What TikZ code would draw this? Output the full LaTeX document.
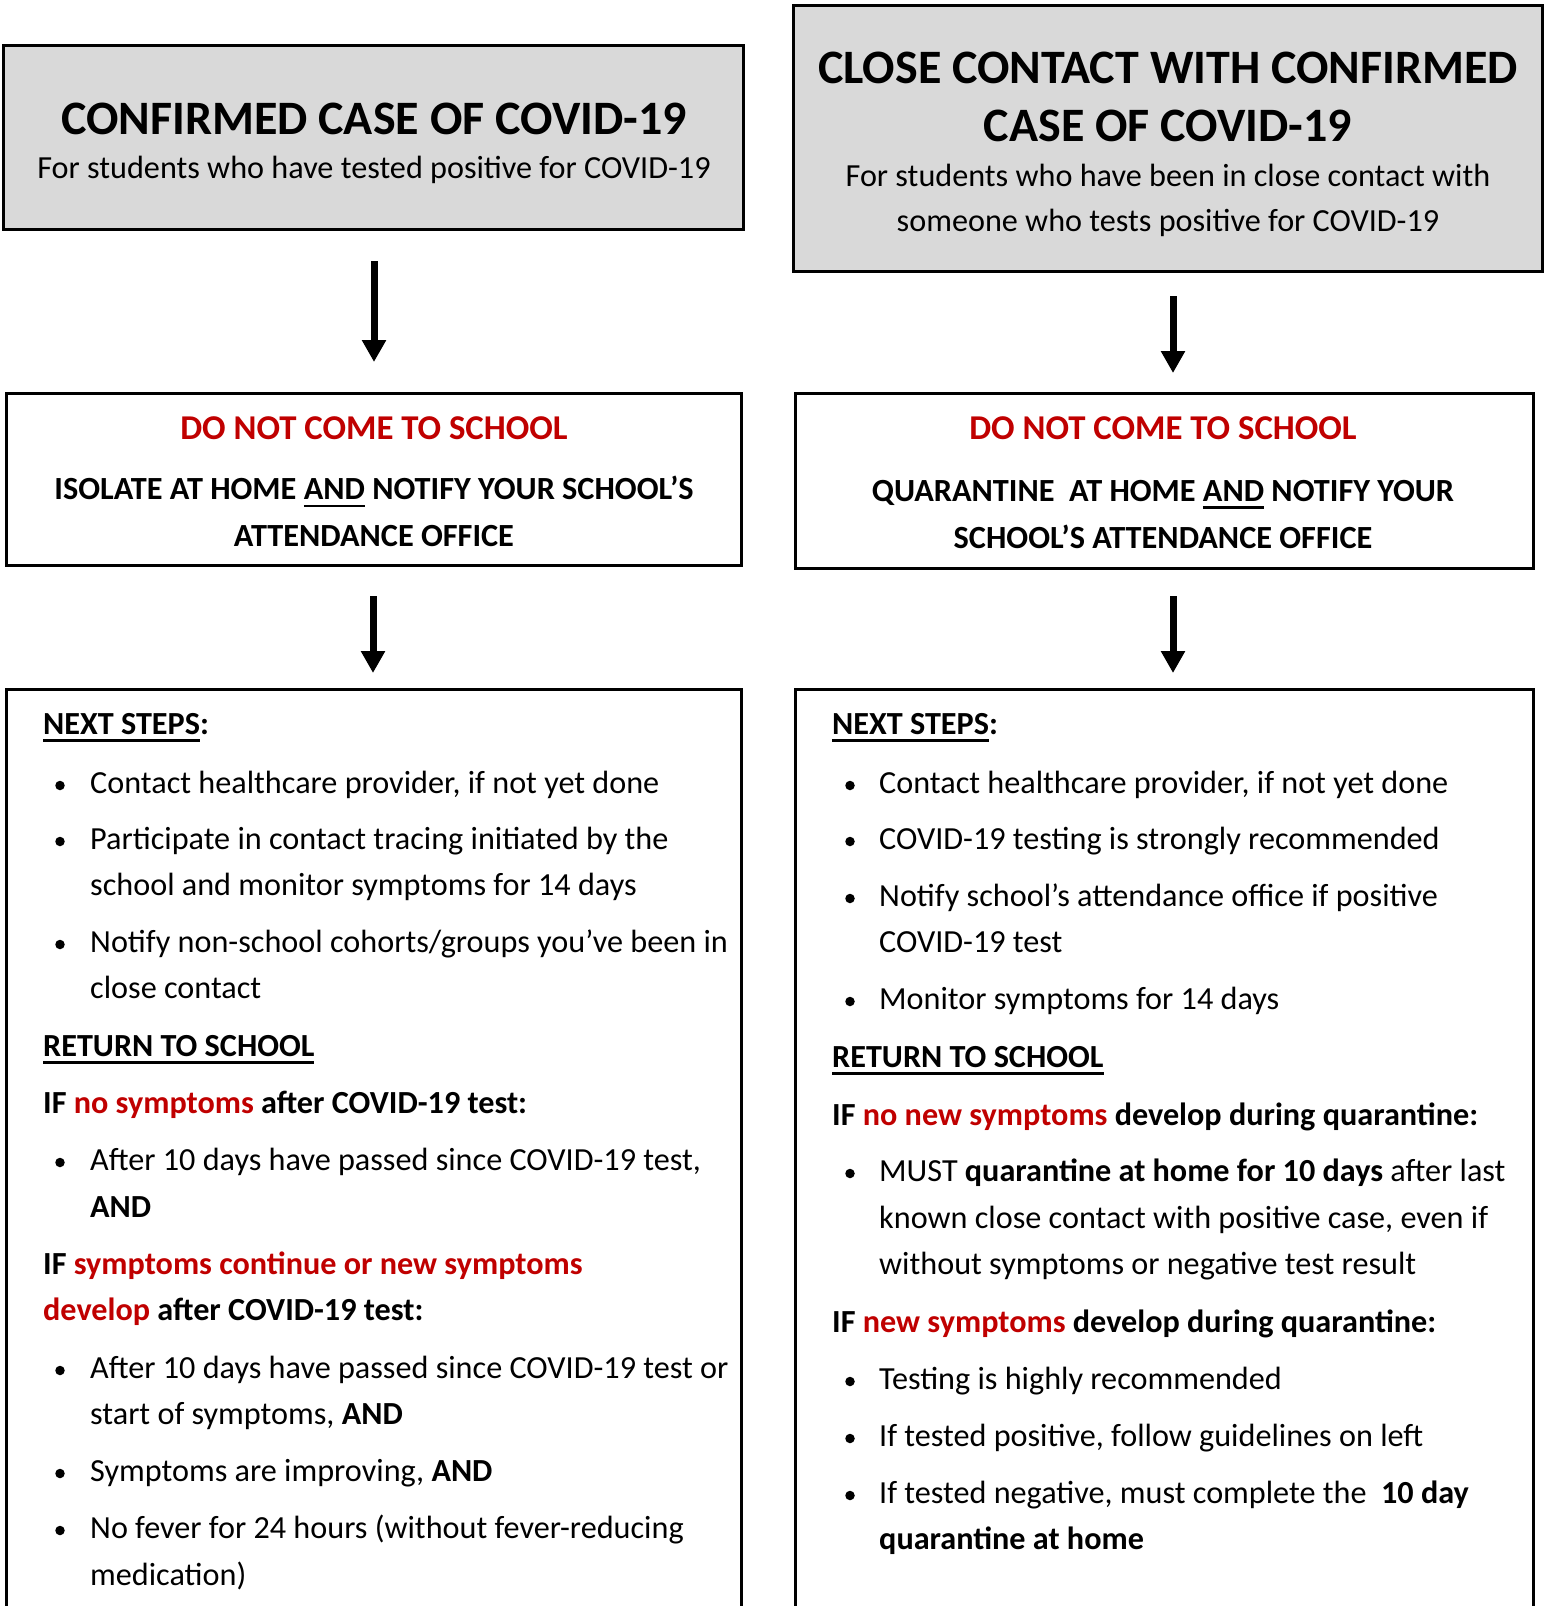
\documentclass[tikz,border=0pt]{standalone}
\usepackage{fontspec}
\setmainfont{Carlito}
\usetikzlibrary{arrows.meta}
\definecolor{boxgray}{HTML}{D9D9D9}
\definecolor{warnred}{HTML}{C00000}
\newcommand\myul[1]{\setbox0\hbox{#1}\rlap{\rule[-7.5pt]{\wd0}{2.4pt}}\box0\relax}
\newcommand\fsbody{\fontsize{32.2}{38}\selectfont}
\newcommand\fstitle{\fontsize{48}{56}\selectfont\bfseries}
\newcommand\fsred{\fontsize{34.8}{40}\selectfont\bfseries}
\newcommand\fsmid{\fontsize{32.3}{40}\selectfont\bfseries}
\tikzset{
  frame/.style={draw=black, line width=3pt, rectangle, inner sep=0pt},
  gbox/.style={frame, fill=boxgray},
  wbox/.style={frame, fill=white},
  arr/.style={line width=7pt, -{Triangle[width=23pt,length=22pt]}},
  ctitle/.style={anchor=base, inner sep=0pt, font=\fstitle},
  csub/.style={anchor=base, inner sep=0pt, font=\fsbody},
  cmid/.style={anchor=base, inner sep=0pt, font=\fsmid},
  cred/.style={anchor=base, inner sep=0pt, font=\fsred, text=warnred},
  ln/.style={anchor=base west, inner sep=0pt, font=\fsbody},
  dot/.style={circle, fill=black, inner sep=0pt, minimum size=9.5pt}
}
\begin{document}
\begin{tikzpicture}[x=1pt,y=-1pt]
\clip (0,0) rectangle (1544,1606);
\fill[white] (0,0) rectangle (1544,1606);

% boxes
\node[gbox, minimum width=739.5, minimum height=184] (t1) at (373.25,137) {};
\node[gbox, minimum width=749, minimum height=266] (t2) at (1167.5,138) {};
\node[wbox, minimum width=735.5, minimum height=172] (m1) at (373.75,479) {};
\node[wbox, minimum width=738, minimum height=175] (m2) at (1164,480.5) {};
\node[wbox, minimum width=735.5, minimum height=952] (b1) at (373.75,1165) {};
\node[wbox, minimum width=738, minimum height=952] (b2) at (1164,1165) {};

% arrows
\draw[arr, shorten <=30.5pt, shorten >=29.5pt] ([xshift=0.75pt]t1.south) -- ([xshift=0.75pt]t1.south |- m1.north);
\draw[arr, shorten <=29.5pt, shorten >=14.5pt] ([xshift=-0.75pt]m1.south) -- ([xshift=-0.75pt]m1.south |- b1.north);
\draw[arr, shorten <=23.5pt, shorten >=18.5pt] ([xshift=5.5pt]t2.south) -- ([xshift=5.5pt]t2.south |- m2.north);
\draw[arr, shorten <=26.5pt, shorten >=14.5pt] ([xshift=9pt]m2.south) -- ([xshift=9pt]m2.south |- b2.north);

% top titles
\node[ctitle] (t1a) at (374,134) {CONFIRMED CASE OF COVID-19};
\node[csub] (t1b) at (374,178) {For students who have tested positive for COVID-19};
\node[ctitle] (t2a) at (1168,83) {CLOSE CONTACT WITH CONFIRMED};
\node[ctitle] (t2b) at (1168,141) {CASE OF COVID-19};
\node[csub] (t2c) at (1168,186) {For students who have been in close contact with};
\node[csub] (t2d) at (1168,231) {someone who tests positive for COVID-19};

% middle boxes
\node[cred] (m1a) at (374,439) {DO NOT COME TO SCHOOL};
\node[cmid] (m1b) at (374,499.5) {ISOLATE AT HOME \myul{AND} NOTIFY YOUR SCHOOL’S};
\node[cmid] (m1c) at (374,546.5) {ATTENDANCE OFFICE};
\node[cred] (m2a) at (1163,439.5) {DO NOT COME TO SCHOOL};
\node[cmid] (m2b) at (1163,501) {QUARANTINE\ \ AT HOME \myul{AND} NOTIFY YOUR};
\node[cmid] (m2c) at (1163,548) {SCHOOL’S ATTENDANCE OFFICE};

% left column
\node[ln] (L1) at (43,734) {\myul{\textbf{NEXT STEPS}}\textbf{:}};
\node[dot] (d2) at (60,785.5) {};
\node[ln] (L2) at (90,793) {Contact healthcare provider, if not yet done};
\node[dot] (d3) at (60,841.5) {};
\node[ln] (L3) at (90,849) {Participate in contact tracing initiated by the};
\node[ln] (L4) at (90,895) {school and monitor symptoms for 14 days};
\node[dot] (d5) at (60,944.5) {};
\node[ln] (L5) at (90,952) {Notify non-school cohorts/groups you’ve been in};
\node[ln] (L6) at (90,998) {close contact};
\node[ln] (L7) at (43,1056) {\myul{\textbf{RETURN TO SCHOOL}}};
\node[ln] (L8) at (43,1113) {\textbf{IF \textcolor{warnred}{no symptoms} after COVID-19 test:}};
\node[dot] (d9) at (60,1162.5) {};
\node[ln] (L9) at (90,1170) {After 10 days have passed since COVID-19 test,};
\node[ln] (L10) at (90,1217) {\textbf{AND}};
\node[ln] (L11) at (43,1274) {\textbf{IF \textcolor{warnred}{symptoms continue or new symptoms}}};
\node[ln] (L12) at (43,1320) {\textbf{\textcolor{warnred}{develop} after COVID-19 test:}};
\node[dot] (d13) at (60,1370.5) {};
\node[ln] (L13) at (90,1378) {After 10 days have passed since COVID-19 test or};
\node[ln] (L14) at (90,1424) {start of symptoms, \textbf{AND}};
\node[dot] (d15) at (60,1473.5) {};
\node[ln] (L15) at (90,1481) {Symptoms are improving, \textbf{AND}};
\node[dot] (d16) at (60,1530.5) {};
\node[ln] (L16) at (90,1538) {No fever for 24 hours (without fever-reducing};
\node[ln] (L17) at (90,1585) {medication)};

% right column
\node[ln] (R1) at (832,734) {\myul{\textbf{NEXT STEPS}}\textbf{:}};
\node[dot] (e2) at (850,785.5) {};
\node[ln] (R2) at (879,793) {Contact healthcare provider, if not yet done};
\node[dot] (e3) at (850,841.5) {};
\node[ln] (R3) at (879,849) {COVID-19 testing is strongly recommended};
\node[dot] (e4) at (850,898.5) {};
\node[ln] (R4) at (879,906) {Notify school’s attendance office if positive};
\node[ln] (R5) at (879,952) {COVID-19 test};
\node[dot] (e6) at (850,1001.5) {};
\node[ln] (R6) at (879,1009) {Monitor symptoms for 14 days};
\node[ln] (R7) at (832,1067) {\myul{\textbf{RETURN TO SCHOOL}}};
\node[ln] (R8) at (832,1125) {\textbf{IF \textcolor{warnred}{no new symptoms} develop during quarantine:}};
\node[dot] (e9) at (850,1173.5) {};
\node[ln] (R9) at (879,1181) {MUST \textbf{quarantine at home for 10 days} after last};
\node[ln] (R10) at (879,1228) {known close contact with positive case, even if};
\node[ln] (R11) at (879,1274) {without symptoms or negative test result};
\node[ln] (R12) at (832,1332) {\textbf{IF \textcolor{warnred}{new symptoms} develop during quarantine:}};
\node[dot] (e13) at (850,1381.5) {};
\node[ln] (R13) at (879,1389) {Testing is highly recommended};
\node[dot] (e14) at (850,1438.5) {};
\node[ln] (R14) at (879,1446) {If tested positive, follow guidelines on left};
\node[dot] (e15) at (850,1495.5) {};
\node[ln] (R15) at (879,1503) {If tested negative, must complete the\ \ \textbf{10 day}};
\node[ln] (R16) at (879,1549) {\textbf{quarantine at home}};
\end{tikzpicture}
\end{document}
